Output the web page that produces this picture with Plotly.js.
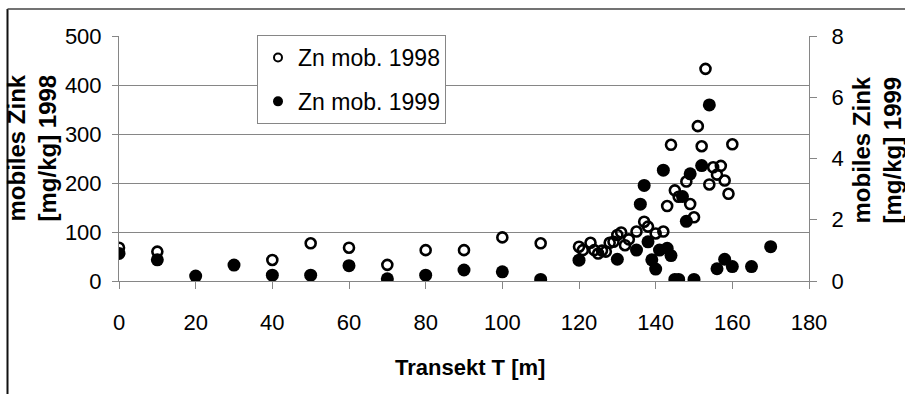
<!DOCTYPE html>
<html>
<head>
<meta charset="utf-8">
<script src="https://cdn.plot.ly/plotly-3.0.1.min.js"></script>
<style>html,body{margin:0;padding:0;background:#fff;}#chart{width:905px;height:394px;}</style>
</head>
<body>
<div id="chart"></div>
<script>
// Transect positions (m) and mobile zinc values
const x1998 = [0,10,40,50,60,70,80,90,100,110,120,121,123,124,125,126,127,128,129,130,131,132,133,135,137,138,140,142,143,144,145,146,148,149,150,151,152,153,154,155,156,157,158,159,160];
const zn1998 = [68,60,43,77,68,33,63,63,89,77,70,63,78,63,56,62,60,78,80,94,99,73,85,101,121,111,97,101,153,278,185,172,203,157,130,316,275,433,197,232,217,235,205,178,279];
const x1999 = [0,10,20,30,40,50,60,70,80,90,100,110,120,130,135,136,137,138,139,140,141,142,143,144,145,146,147,148,149,150,152,154,156,158,160,165,170];
const zn1999 = [0.90,0.69,0.16,0.52,0.19,0.19,0.50,0.07,0.19,0.36,0.30,0.05,0.68,0.71,1.01,2.51,3.12,1.28,0.69,0.39,1.01,3.62,1.07,0.83,0.05,0.05,2.76,1.95,3.50,0.05,3.77,5.75,0.40,0.71,0.47,0.47,1.12];
const xTicks = [0,20,40,60,80,100,120,140,160,180];
const yTicks = [0,100,200,300,400,500];
const y2Ticks = [0,2,4,6,8];
const name1998 = 'Zn mob. 1998';
const name1999 = 'Zn mob. 1999';

const FONT = 'Liberation Sans, Arial, sans-serif';
const GRID = '#868686';

const traces = [
  {x: x1998, y: zn1998, type: 'scatter', mode: 'markers', name: name1998, showlegend: false,
   marker: {symbol: 'circle-open', size: 10, color: '#000', line: {width: 2.6, color: '#000'}}},
  {x: x1999, y: zn1999, type: 'scatter', mode: 'markers', name: name1999, yaxis: 'y2', showlegend: false,
   marker: {symbol: 'circle', size: 13, color: '#000'}},
  {x: [null], y: [null], type: 'scatter', mode: 'markers', name: name1998, legendgroup: 'a',
   marker: {symbol: 'circle-open', size: 8, color: '#000', line: {width: 2, color: '#000'}}},
  {x: [null], y: [null], type: 'scatter', mode: 'markers', name: name1999, legendgroup: 'b',
   marker: {symbol: 'circle', size: 10, color: '#000'}}
];

function px(x){return (x-119)/690;}
function py(y){return (281-y)/245;}

const layout = {
  width: 905, height: 394,
  margin: {l: 119, r: 96, t: 36, b: 113, pad: 0},
  paper_bgcolor: '#fff', plot_bgcolor: 'rgba(0,0,0,0)',
  font: {family: FONT, size: 22, color: '#000'},
  showlegend: true,
  legend: {x: px(257), y: py(35), xanchor: 'left', yanchor: 'top', bgcolor: '#fff',
    bordercolor: GRID, borderwidth: 1, font: {family: FONT, size: 23, color: '#000'},
    tracegroupgap: 11, traceorder: 'grouped', itemwidth: 30},
  xaxis: {range: [0, 180], tickvals: xTicks, ticktext: xTicks.map(String), showgrid: false, zeroline: false,
    showline: true, linecolor: GRID, linewidth: 1, ticks: 'outside', ticklen: 7, tickcolor: GRID,
    ticklabelstandoff: 15, tickfont: {family: FONT, size: 22, color: '#000'}, fixedrange: true},
  yaxis: {range: [0, 500], tickvals: yTicks, ticktext: yTicks.map(String), showgrid: true, gridcolor: GRID, gridwidth: 1,
    zeroline: false, showline: true, linecolor: GRID, linewidth: 1, ticks: 'outside', ticklen: 6, tickcolor: GRID,
    ticklabelstandoff: 6, tickfont: {family: FONT, size: 22, color: '#000'}, fixedrange: true},
  yaxis2: {range: [0, 8], overlaying: 'y', side: 'right', tickvals: y2Ticks, ticktext: y2Ticks.map(String),
    showgrid: false, zeroline: false, showline: true, linecolor: GRID, linewidth: 1, ticks: 'outside', ticklen: 7,
    tickcolor: GRID, ticklabelstandoff: 10, tickfont: {family: FONT, size: 22, color: '#000'}, fixedrange: true},
  annotations: [
    {text: '<b>mobiles Zink<br>[mg/kg] 1998</b>', xref: 'paper', yref: 'paper', x: px(31), y: py(148.5),
     xanchor: 'center', yanchor: 'middle', textangle: -90, showarrow: false, font: {family: FONT, size: 24, color: '#000'}},
    {text: '<b>mobiles Zink<br>[mg/kg] 1999</b>', xref: 'paper', yref: 'paper', x: px(876), y: py(150.5),
     xanchor: 'center', yanchor: 'middle', textangle: -90, showarrow: false, font: {family: FONT, size: 24, color: '#000'}},
    {text: '<b>Transekt T [m]</b>', xref: 'paper', yref: 'paper', x: px(470), y: py(367),
     xanchor: 'center', yanchor: 'middle', showarrow: false, font: {family: FONT, size: 22, color: '#000'}}
  ],
  shapes: [
    {type: 'line', xref: 'paper', yref: 'paper', x0: px(7.5), x1: px(7.5), y0: py(9), y1: py(400), line: {color: '#111', width: 2}},
    {type: 'line', xref: 'paper', yref: 'paper', x0: px(7.5), x1: px(910), y0: py(9), y1: py(9), line: {color: '#444', width: 1.5}}
  ]
};

Plotly.newPlot('chart', traces, layout, {staticPlot: true, displayModeBar: false});
</script>
</body>
</html>
